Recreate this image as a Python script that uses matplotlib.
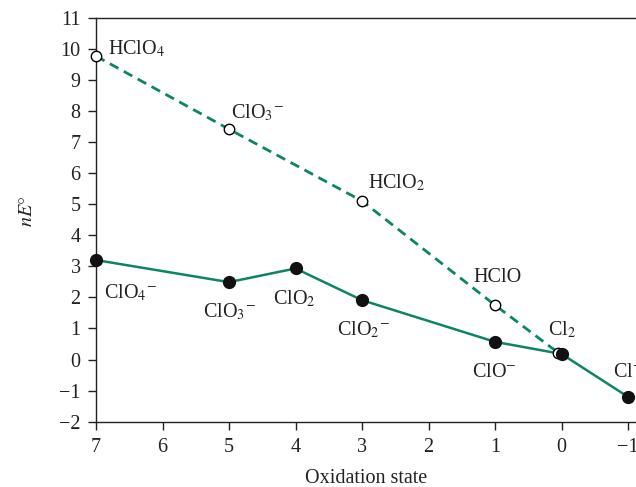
import matplotlib.pyplot as plt

plt.rcParams['font.family'] = ['Liberation Serif', 'DejaVu Serif']
plt.rcParams['mathtext.fontset'] = 'stix'

# acidic solution (open circles, dashed)
acid_ox = [7, 5, 3, 1, 0.05]
acid_ne = [9.76, 7.41, 5.1, 1.75, 0.22]
acid_labels = [r'HClO$_4$', r'ClO$_3{}^{-}$', r'HClO$_2$', 'HClO', r'Cl$_2$']
acid_label_pos = [(6.82, 10.0), (4.97, 7.93), (2.91, 5.67), (1.32, 2.65), (0.2, 0.95)]

# basic solution (filled circles, solid)
base_ox = [7, 5, 4, 3, 1, 0, -1]
base_ne = [3.2, 2.49, 2.93, 1.91, 0.57, 0.18, -1.2]
base_labels = [r'ClO$_4{}^{-}$', r'ClO$_3{}^{-}$', r'ClO$_2$', r'ClO$_2{}^{-}$',
               r'ClO$^{-}$', None, r'Cl$^{-}$']
base_label_pos = [(6.88, 2.14), (5.39, 1.53), (4.34, 1.94), (3.38, 0.95),
                  (1.35, -0.41), None, (-0.77, -0.43)]

green = '#0b8566'
ink = '#222222'
fs = 14.5

fig = plt.figure(figsize=(6.36, 4.87), dpi=100)
ax = fig.add_axes([96 / 636, 0.134, 540 / 636, 0.830])

ax.plot(acid_ox, acid_ne, color=green, lw=2, ls=(0, (3.5, 2.2)), zorder=2, clip_on=False)
ax.plot(acid_ox, acid_ne, 'o', ms=7.5, mfc='white', mec='black', mew=1, zorder=4, clip_on=False)
ax.plot(base_ox, base_ne, color=green, lw=1.8, zorder=2, clip_on=False)
ax.plot(base_ox, base_ne, 'o', ms=8.5, color='#111111', zorder=5, clip_on=False)

for lab, pos in zip(acid_labels, acid_label_pos):
    ax.text(pos[0], pos[1], lab, fontsize=fs, va='center', ha='left', color=ink)
for lab, pos in zip(base_labels, base_label_pos):
    if lab is not None:
        ax.text(pos[0], pos[1], lab, fontsize=fs, va='center', ha='left', color=ink)

ax.set_xlim(7, -1.12)
ax.set_ylim(-2, 11)
ax.set_xticks(range(7, -2, -1))
ax.set_xticklabels(['7', '6', '5', '4', '3', '2', '1', '0', '\u22121'])
ax.set_yticks(range(-2, 12))
ax.set_yticklabels([str(v) if v >= 0 else '\u2212' + str(-v) for v in range(-2, 12)])
ax.tick_params(direction='out', length=6, width=1, labelsize=fs, colors=ink)
ax.tick_params(axis='x', pad=6)
ax.tick_params(axis='y', pad=5)
ax.spines['right'].set_visible(False)
for s in ['left', 'bottom', 'top']:
    ax.spines[s].set_linewidth(1)
    ax.spines[s].set_color(ink)

ax.set_xlabel('Oxidation state', fontsize=fs, labelpad=8, color=ink)
ax.set_ylabel(r'$nE\degree$', fontsize=fs, color=ink)
ax.yaxis.set_label_coords(-0.11, 0.52)

fig.savefig('out.png', dpi=100)
